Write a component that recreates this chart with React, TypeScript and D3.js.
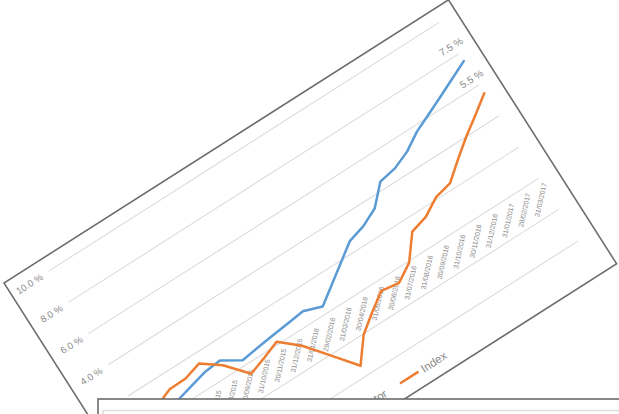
import React from "react";
import * as d3 from "d3";

const dates = [
  "31/03/2015", "30/04/2015", "31/05/2015", "30/06/2015", "31/07/2015", "31/08/2015",
  "30/09/2015", "31/10/2015", "30/11/2015", "31/12/2015", "31/01/2016", "29/02/2016",
  "31/03/2016", "30/04/2016", "31/05/2016", "30/06/2016", "31/07/2016", "31/08/2016",
  "30/09/2016", "31/10/2016", "30/11/2016", "31/12/2016", "31/01/2017", "28/02/2017",
  "31/03/2017",
];
const sector = [
  0.0, 0.1, 0.35, 0.6, 0.86, 0.95, 0.3, 0.44, 0.56, 0.67, 0.79, 0.43, 1.16,
  1.89, 2.62, 2.91, 3.39, 4.45, 4.63, 5.04, 5.67, 6.12, 6.58, 7.05, 7.52,
];
const index = [
  0.2, 0.7, 1.1, 1.13, 1.42, 0.65, -0.56, -0.22, 0.16, -0.76, -2.06, -3.37, -2.05,
  -1.27, -0.56, -0.71, -0.08, 1.24, 1.52, 2.12, 2.35, 3.2, 4.0, 4.72, 5.46,
];
const yTicks = [-4, -2, 0, 2, 4, 6, 8, 10];
const seriesNames = ["Sector", "Index"];
const endLabels = ["7.5 %", "5.5 %"];

const FONT = "'Liberation Sans', Arial, sans-serif";
const BLUE = "#5b9bd5";
const ORANGE = "#ed7d31";
const TXT = "#8a8a8a";

export default function App() {
  const CW = 527;
  const CH = 313;
  const x = d3.scalePoint<string>().domain(dates).range([44, 507]);
  const y = d3.scaleLinear().domain([-4, 10]).range([273, 14]);
  const line = d3
    .line<number>()
    .x((_, i) => x(dates[i]) as number)
    .y((d) => y(d));
  const series = [
    { name: seriesNames[0], data: sector, color: BLUE, label: endLabels[0] },
    { name: seriesNames[1], data: index, color: ORANGE, label: endLabels[1] },
  ];
  const last = dates.length - 1;
  return (
    <div style={{ position: "fixed", left: 0, top: 0, width: 619, height: 414, background: "#fff" }}>
      <svg width={619} height={414} style={{ display: "block" }}>
        <rect x={0} y={0} width={619} height={414} fill="#fff" />
        <g transform="translate(4,283) rotate(-32.5)">
          <rect x={0} y={0} width={CW} height={CH} fill="#fff" stroke="#6e6e6e" strokeWidth={1.6} />
          {yTicks.map((t) => (
            <g key={t}>
              <line x1={44} x2={507} y1={y(t)} y2={y(t)} stroke="#d9d9d9" strokeWidth={1} />
              <text
                x={36}
                y={y(t)}
                dy="0.4em"
                textAnchor="end"
                fontSize={9.6}
                fontFamily={FONT}
                fill={TXT}
              >
                {t.toFixed(1) + " %"}
              </text>
            </g>
          ))}
          {dates.map((d) => (
            <text
              key={d}
              transform={`translate(${(x(d) as number) + 2.5},${y(0) + 7}) rotate(-45)`}
              textAnchor="end"
              dy="0.35em"
              fontSize={6.9}
              fontFamily={FONT}
              fill={TXT}
            >
              {d}
            </text>
          ))}
          {series.map((s) => (
            <path
              key={s.name}
              d={line(s.data) || ""}
              fill="none"
              stroke={s.color}
              strokeWidth={2.5}
              strokeLinejoin="round"
              strokeLinecap="round"
            />
          ))}
          {series.map((s) => (
            <text
              key={s.name + "l"}
              x={(x(dates[last]) as number) - 3}
              y={y(s.data[last]) - 19}
              dy="0.35em"
              textAnchor="middle"
              fontSize={10}
              fontFamily={FONT}
              fill={TXT}
            >
              {s.label}
            </text>
          ))}
          {/* legend */}
          <g transform="translate(0,297.5)">
            <line x1={204} x2={226} y1={0} y2={0} stroke={BLUE} strokeWidth={2.5} />
            <text x={230} y={0} dy="0.35em" fontSize={11.5} fontFamily={FONT} fill={TXT}>
              {seriesNames[0]}
            </text>
            <line x1={280} x2={302} y1={0} y2={0} stroke={ORANGE} strokeWidth={2.5} />
            <text x={306} y={0} dy="0.35em" fontSize={11.5} fontFamily={FONT} fill={TXT}>
              {seriesNames[1]}
            </text>
          </g>
        </g>
        <rect x={98} y={399} width={540} height={40} fill="#fff" stroke="#6b6b6b" strokeWidth={1.6} />
        <rect x={103} y={410.5} width={530} height={30} fill="none" stroke="#dedede" strokeWidth={1.5} />
      </svg>
    </div>
  );
}
